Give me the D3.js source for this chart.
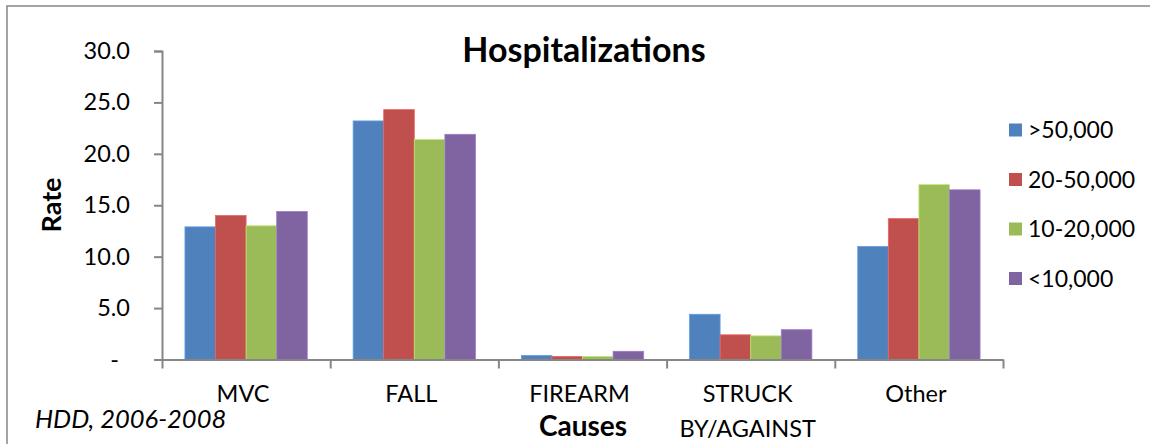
<!DOCTYPE html>
<html>
<head>
<meta charset="utf-8">
<script src="https://cdn.jsdelivr.net/npm/d3@7"></script>
<style>
  html, body { margin: 0; padding: 0; background: #fff; }
  svg { display: block; font-family: Lato, "Open Sans", sans-serif; }
</style>
</head>
<body>
<svg id="chart" width="1150" height="444"></svg>
<script>
const categories = ["MVC", "FALL", "FIREARM", "STRUCK BY/AGAINST", "Other"];
const categoryLines = [["MVC"], ["FALL"], ["FIREARM"], ["STRUCK", "BY/AGAINST"], ["Other"]];
const seriesNames = [">50,000", "20-50,000", "10-20,000", "<10,000"];
const seriesColors = ["#4F81BD", "#C0504D", "#9BBB59", "#8064A2"];
const over50k   = [12.9, 23.2, 0.4, 4.4, 11.0];
const from20to50k = [14.0, 24.3, 0.3, 2.4, 13.7];
const from10to20k = [13.0, 21.4, 0.3, 2.3, 17.0];
const under10k  = [14.4, 21.9, 0.8, 2.9, 16.5];
const seriesValues = [over50k, from20to50k, from10to20k, under10k];
const yTicks = [0, 5, 10, 15, 20, 25, 30];
const yTickLabels = ["-", "5.0", "10.0", "15.0", "20.0", "25.0", "30.0"];

const svg = d3.select("#chart");
const axisColor = "#868686";

// outer border (chart area)
svg.append("rect")
  .attr("x", 7).attr("y", 6).attr("width", 1160).attr("height", 460)
  .attr("fill", "none").attr("stroke", axisColor).attr("stroke-width", 1.5);

const x0 = d3.scaleBand().domain(categories).range([162, 1003]).paddingInner(0).paddingOuter(0);
const x1 = d3.scaleBand().domain(seriesNames).range([0, x0.bandwidth()]).paddingInner(0).paddingOuter(0.75);
const y = d3.scaleLinear().domain([0, 30]).range([359.5, 51]);

// bars
const table = [];
categories.forEach((c, ci) => {
  seriesNames.forEach((s, si) => {
    table.push({ cat: c, series: s, value: seriesValues[si][ci], color: seriesColors[si] });
  });
});
svg.append("g").selectAll("rect")
  .data(table).join("rect")
  .attr("x", d => x0(d.cat) + x1(d.series))
  .attr("y", d => y(d.value))
  .attr("width", x1.bandwidth())
  .attr("height", d => y(0) - y(d.value))
  .attr("fill", d => d.color)
  .attr("stroke", d => d3.color(d.color).brighter(0.6))
  .attr("stroke-width", 0.8);

// y axis
const yAxis = d3.axisLeft(y).tickValues(yTicks).tickSize(8).tickFormat((d, i) => yTickLabels[i]);
const gy = svg.append("g").attr("transform", "translate(162,0)").call(yAxis);
gy.select(".domain").attr("stroke", axisColor).attr("stroke-width", 2);
gy.selectAll(".tick line").attr("stroke", axisColor).attr("stroke-width", 2);
gy.selectAll(".tick text")
  .attr("x", (d) => d === 0 ? -43 : -32)
  .attr("font-size", 23.5).attr("font-family", "Lato, sans-serif").attr("fill", "#000");

// x axis
const xBoundaries = categories.map(c => x0(c)).concat([x0.range()[1]]);
const xLin = d3.scaleLinear().domain([162, 1003]).range([162, 1003]);
const xAxis = d3.axisBottom(xLin).tickValues(xBoundaries).tickSize(9).tickSizeOuter(0).tickFormat("");
const gx = svg.append("g").attr("transform", `translate(0,${y(0)})`).call(xAxis);
gx.select(".domain").attr("stroke", axisColor).attr("stroke-width", 2);
gx.selectAll(".tick line").attr("stroke", axisColor).attr("stroke-width", 2);

// category labels
categories.forEach((c, ci) => {
  const cx = x0(c) + x0.bandwidth() / 2 - 3;
  const t = svg.append("text").attr("text-anchor", "middle").attr("font-size", 23.5).attr("fill", "#000");
  categoryLines[ci].forEach((line, li) => {
    t.append("tspan").attr("x", cx).attr("y", 402 + li * 35).text(line);
  });
});

// title
svg.append("text").attr("x", 584).attr("y", 62).attr("text-anchor", "middle")
  .attr("font-size", 34).attr("font-weight", "bold").text("Hospitalizations");

// axis titles
svg.append("text").attr("transform", "translate(61,205) rotate(-90)").attr("text-anchor", "middle")
  .attr("font-size", 27).attr("font-weight", "bold").text("Rate");
svg.append("text").attr("x", 583).attr("y", 436).attr("text-anchor", "middle")
  .attr("font-size", 28).attr("font-weight", "bold").text("Causes");

// source note
svg.append("text").attr("x", 35).attr("y", 428).attr("font-size", 25.5).attr("font-style", "italic").text("HDD, 2006-2008");

// legend
const legend = svg.append("g").selectAll("g").data(seriesNames).join("g")
  .attr("transform", (d, i) => `translate(1009,${130 + i * 49.5})`);
legend.append("rect").attr("x", 0).attr("y", -6.5).attr("width", 13).attr("height", 13)
  .attr("fill", (d, i) => seriesColors[i]);
legend.append("text").attr("x", 19).attr("y", 0).attr("dy", "0.35em")
  .attr("font-size", 23).text(d => d);
</script>
</body>
</html>
